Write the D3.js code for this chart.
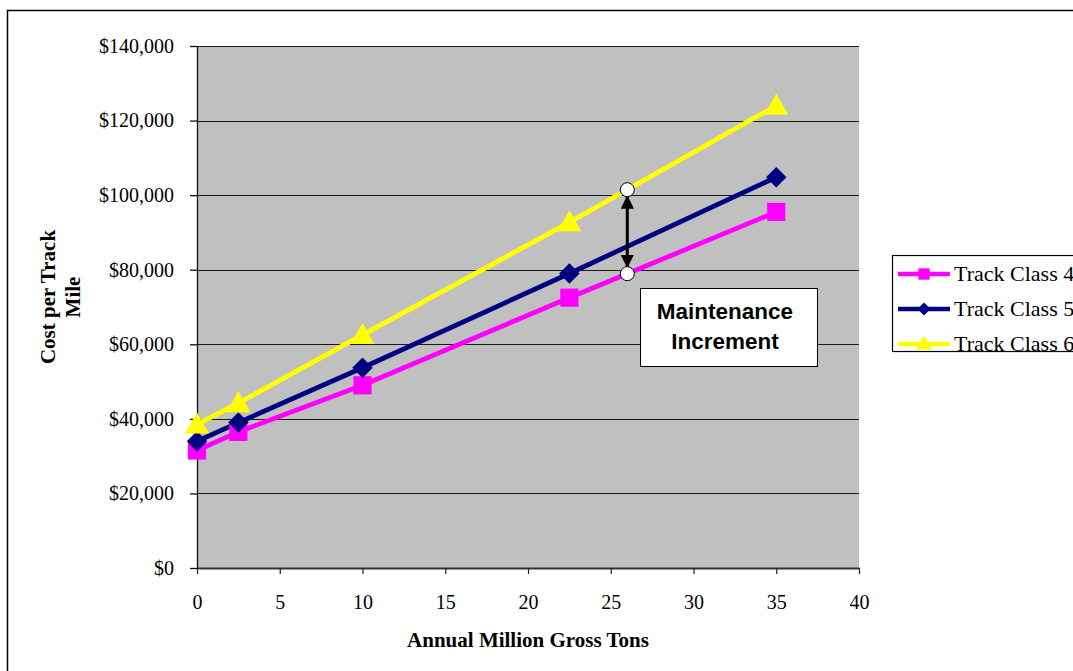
<!DOCTYPE html>
<html>
<head>
<meta charset="utf-8">
<script src="https://cdn.jsdelivr.net/npm/d3@7"></script>
<style>
    html, body { margin: 0; padding: 0; background: #fff; }
    #chart-container { width: 1073px; height: 671px; }
</style>
</head>
<body>
<div id="chart-container"></div>
<script>
// --- 1. DATA ---
const mgt = [0, 2.5, 10, 22.5, 35];
const trackClass4 = [31500, 36500, 49000, 72500, 95500];
const trackClass5 = [34000, 39000, 53700, 79000, 104800];
const trackClass6 = [38500, 44200, 62500, 92700, 124000];
const seriesNames = ['Track Class 4', 'Track Class 5', 'Track Class 6'];
const xTicks = [0, 5, 10, 15, 20, 25, 30, 35, 40];
const yTicks = [0, 20000, 40000, 60000, 80000, 100000, 120000, 140000];
const incrementAt = 26; // where the arrow sits on the x axis

// --- 2. CONFIG ---
const width = 1073, height = 671;
const plot = { left: 197, right: 859, top: 46, bottom: 568 };
const colors = ['#ff00ff', '#000080', '#ffff00'];
// square, diamond (= rotated square), triangle
const symbols = [d3.symbolSquare, d3.symbolSquare, d3.symbolTriangle];
const rotation = [0, 45, 0];
const markerSize = [330, 210, 250];
const legendMarker = [130, 85, 110];
const serif = '"Liberation Serif", "Times New Roman", serif';
const sans = '"Liberation Sans", Arial, sans-serif';

const series = [trackClass4, trackClass5, trackClass6].map((vals, k) => ({
    name: seriesNames[k],
    color: colors[k],
    symbol: symbols[k],
    rotate: rotation[k],
    size: markerSize[k],
    dy: symbols[k] === d3.symbolTriangle ? 2 : 0,
    points: vals.map((v, j) => ({ x: mgt[j], y: v }))
}));

const x = d3.scaleLinear().domain([0, 40]).range([plot.left, plot.right]);
const y = d3.scaleLinear().domain([0, 140000]).range([plot.bottom, plot.top]);

const svg = d3.select('#chart-container').append('svg')
    .attr('width', width)
    .attr('height', height)
    .style('background', '#fff');

// outer frame (only left and top edges show)
svg.append('path')
    .attr('d', `M7.5,${height} V10.5 H${width}`)
    .attr('fill', 'none')
    .attr('stroke', '#000')
    .attr('stroke-width', 1.5);

// --- 3. PLOT AREA + GRID ---
svg.append('rect')
    .attr('x', plot.left).attr('y', plot.top)
    .attr('width', plot.right - plot.left)
    .attr('height', plot.bottom - plot.top)
    .attr('fill', '#c0c0c0');

svg.append('g').selectAll('line')
    .data(yTicks.filter(d => d > 0))
    .join('line')
    .attr('x1', plot.left).attr('x2', plot.right)
    .attr('y1', d => Math.round(y(d)) + 0.5).attr('y2', d => Math.round(y(d)) + 0.5)
    .attr('stroke', '#1a1a1a')
    .attr('stroke-width', 1);

// --- 4. AXES ---
const yAxis = svg.append('g')
    .attr('transform', `translate(${plot.left},0)`)
    .call(d3.axisLeft(y).tickValues(yTicks).tickFormat(d3.format('$,')).tickSize(7).tickSizeOuter(0).tickPadding(16));
yAxis.selectAll('text').style('font', `20px ${serif}`).attr('fill', '#000');
yAxis.selectAll('line, path').attr('stroke', '#111').attr('stroke-width', 1.3);

const xAxis = svg.append('g')
    .attr('transform', `translate(0,${plot.bottom})`)
    .call(d3.axisBottom(x).tickValues(xTicks).tickSize(6).tickSizeOuter(0).tickPadding(21));
xAxis.selectAll('text').style('font', `20px ${serif}`).attr('fill', '#000');
xAxis.selectAll('line').attr('stroke', '#222').attr('stroke-width', 1.2);
xAxis.select('path').attr('stroke', '#333').attr('stroke-width', 2);

svg.append('text')
    .attr('x', (plot.left + plot.right) / 2)
    .attr('y', 647)
    .attr('text-anchor', 'middle')
    .style('font', `bold 21px ${serif}`)
    .text('Annual Million Gross Tons');

const yTitle = svg.append('text')
    .attr('transform', 'translate(0,297) rotate(-90)')
    .attr('text-anchor', 'middle')
    .style('font', `bold 21px ${serif}`);
yTitle.append('tspan').attr('x', 0).attr('y', 55).text('Cost per Track');
yTitle.append('tspan').attr('x', 0).attr('y', 80).text('Mile');

// --- 5. LINES + MARKERS ---
const line = d3.line().x(d => x(d.x)).y(d => y(d.y));

series.forEach(s => {
    svg.append('path')
        .datum(s.points)
        .attr('d', line)
        .attr('fill', 'none')
        .attr('stroke', s.color)
        .attr('stroke-width', 4.8);
});

series.forEach(s => {
    svg.append('g').selectAll('path')
        .data(s.points)
        .join('path')
        .attr('transform', d => `translate(${x(d.x)},${y(d.y) + s.dy}) rotate(${s.rotate})`)
        .attr('d', d3.symbol().type(s.symbol).size(s.size))
        .attr('fill', s.color);
});

// --- 6. MAINTENANCE INCREMENT ANNOTATION ---
function valueAt(points, xv) {
    for (let j = 1; j < points.length; j++) {
        if (xv <= points[j].x) {
            const a = points[j - 1], b = points[j];
            return a.y + (b.y - a.y) * (xv - a.x) / (b.x - a.x);
        }
    }
    return points[points.length - 1].y;
}

const topY = y(valueAt(series[2].points, incrementAt));
const botY = y(valueAt(series[0].points, incrementAt));
const ax = x(incrementAt);

svg.append('defs').append('marker')
    .attr('id', 'head')
    .attr('viewBox', '0 0 10 10')
    .attr('refX', 9).attr('refY', 5)
    .attr('markerWidth', 4.5).attr('markerHeight', 4.5)
    .attr('markerUnits', 'strokeWidth')
    .attr('orient', 'auto-start-reverse')
    .append('path')
    .attr('d', 'M0,0 L10,5 L0,10 Z')
    .attr('fill', '#000');

svg.append('line')
    .attr('x1', ax).attr('x2', ax)
    .attr('y1', topY + 7).attr('y2', botY - 7)
    .attr('stroke', '#000')
    .attr('stroke-width', 3)
    .attr('marker-start', 'url(#head)')
    .attr('marker-end', 'url(#head)');

svg.append('g').selectAll('circle')
    .data([topY, botY])
    .join('circle')
    .attr('cx', ax).attr('cy', d => d)
    .attr('r', 7)
    .attr('fill', '#fff')
    .attr('stroke', '#000')
    .attr('stroke-width', 1);

const note = svg.append('g');
note.append('rect')
    .attr('x', 640.5).attr('y', 288.5)
    .attr('width', 177).attr('height', 78)
    .attr('fill', '#fff')
    .attr('stroke', '#000')
    .attr('stroke-width', 1);
note.append('text')
    .attr('x', 725).attr('y', 319)
    .attr('text-anchor', 'middle')
    .style('font', `bold 22.5px ${sans}`)
    .text('Maintenance');
note.append('text')
    .attr('x', 725).attr('y', 349)
    .attr('text-anchor', 'middle')
    .style('font', `bold 22.5px ${sans}`)
    .text('Increment');

// --- 7. LEGEND ---
const legend = svg.append('g');
legend.append('rect')
    .attr('x', 892.5).attr('y', 255.5)
    .attr('width', 200).attr('height', 96)
    .attr('fill', '#fff')
    .attr('stroke', '#000')
    .attr('stroke-width', 1.2);

const legendRows = [274, 309, 344];
series.forEach((s, k) => {
    const row = legend.append('g').attr('transform', `translate(0,${legendRows[k]})`);
    row.append('line')
        .attr('x1', 898).attr('x2', 950)
        .attr('stroke', s.color)
        .attr('stroke-width', 4.5);
    row.append('path')
        .attr('transform', `translate(924,${s.dy / 2}) rotate(${s.rotate})`)
        .attr('d', d3.symbol().type(s.symbol).size(legendMarker[k]))
        .attr('fill', s.color);
    row.append('text')
        .attr('x', 954).attr('y', 7)
        .style('font', `22px ${serif}`)
        .text(s.name);
});
</script>
</body>
</html>
